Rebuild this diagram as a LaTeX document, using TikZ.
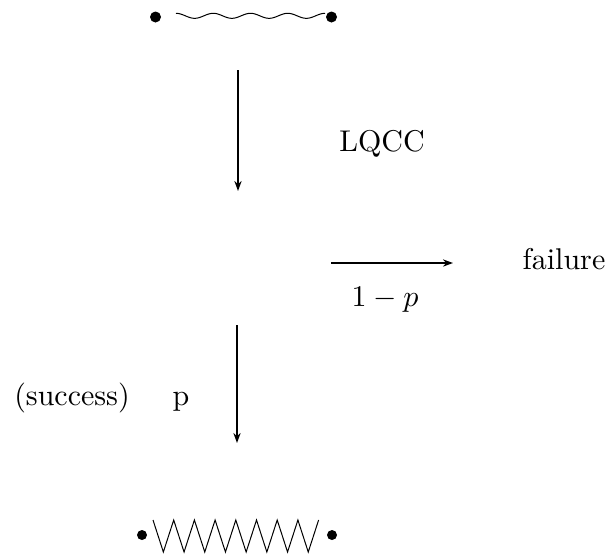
\documentclass[tikz,border=0pt]{standalone}
\usepackage{tikz}
\usepackage{graphicx}
\usetikzlibrary{arrows.meta,positioning}

\newcommand{\bigtxt}[1]{\scalebox{1.5}{#1}}

\begin{document}
\begin{tikzpicture}[
  x=0.5pt, y=-0.5pt,
  dot/.style={
    circle, fill=black, inner sep=0pt, minimum size=5.5pt
  },
  txt/.style={
    inner sep=0pt, anchor=base, font=\normalsize
  },
  flow/.style={
    -{Stealth[length=5pt,width=3.6pt]}, line width=0.9pt
  },
  bond/.style={line width=0.5pt}
]
\useasboundingbox (0,0) rectangle (613,559);

% Initial pair (weakly entangled)
\node[dot] (top1) at (155.5,17) {};
\node[dot] (top2) at (331.5,17) {};
\draw[bond] plot[domain=0:149, samples=140, smooth]
  ({176+\x}, {15.8-2.5*cos(9.6644*\x)});

% Final pair (maximally entangled)
\node[dot, minimum size=5pt] (bot1) at (142,535) {};
\node[dot, minimum size=5pt] (bot2) at (332,535) {};
\draw[bond] (153,520)
  \foreach \k in {0,...,7} {
    -- ({163.35+20.7*\k},552) -- ({173.7+20.7*\k},520)
  };

% Arrow ends
\coordinate (lqccA) at (238,70);
\coordinate (lqccB) at (238,191);
\coordinate (failA) at (331,263);
\coordinate (failB) at (453,263);
\coordinate (succA) at (237,325);
\coordinate (succB) at (237,443);

\draw[flow] (lqccA) -- (lqccB);
\draw[flow] (failA) -- (failB);
\draw[flow] (succA) -- (succB);

% Labels
\node[txt] (lqcc)  at (382,151) {\bigtxt{LQCC}};
\node[txt] (fail)  at (564,269) {\bigtxt{failure}};
\node[txt] (prob)  at (385,306) {\bigtxt{$1-p$}};
\node[txt] (succ)  at (72,405)  {\bigtxt{(success)}};
\node[txt] (psucc) at (181,405) {\bigtxt{p}};

\end{tikzpicture}
\end{document}
